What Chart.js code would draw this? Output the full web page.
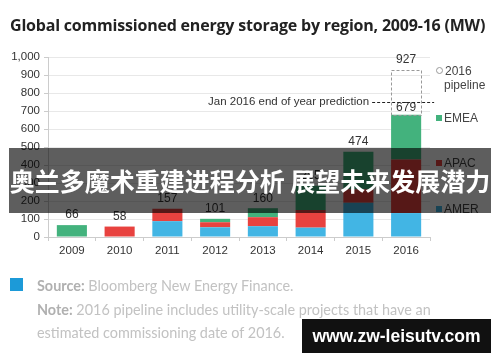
<!DOCTYPE html>
<html>
<head>
<meta charset="utf-8">
<script src="https://cdn.jsdelivr.net/npm/chart.js"></script>
<style>
  body { margin: 0; background: #fff; }
  #wrap { position: relative; width: 500px; height: 362px; overflow: hidden; font-family: "Open Sans", sans-serif; }
  #chart { position: absolute; left: 0; top: 0; }
  .title { position: absolute; left: 10px; top: 14px; font: bold 16px "Open Sans", sans-serif; color: #222; white-space: nowrap; letter-spacing: -0.2px; }
  .legend { position: absolute; left: 436px; font: 12px "Liberation Sans", sans-serif; color: #444; line-height: 14px; }
  .legend i { display: inline-block; width: 6px; height: 6px; margin-right: 2px; vertical-align: 1px; }
  .footer { position: absolute; left: 37px; font: 14.4px Lato, sans-serif; color: #c2c2c2; white-space: nowrap; }
  .footer b { color: #b0b0b0; }
  .blue { position: absolute; left: 10px; top: 278px; width: 13px; height: 13px; background: #1c9ad8; }
  .band { position: absolute; left: 9px; top: 148px; width: 482px; height: 65px; background: rgba(0,0,0,0.63);
          color: #fff; font: bold 25px "Noto Sans CJK SC", sans-serif; text-align: center; line-height: 65px; white-space: nowrap; }
  .mark { position: absolute; left: 302px; top: 319px; width: 189px; height: 34px; background: #111; overflow: hidden;
          color: #fff; font: bold 17.5px "Liberation Sans", sans-serif; text-align: center; line-height: 34px; white-space: nowrap; }
</style>
</head>
<body>
<div id="wrap">
  <canvas id="chart" width="500" height="362"></canvas>
  <div class="title">Global commissioned energy storage by region, 2009-16 (MW)</div>
  <div id="legend"></div>
  <div class="blue"></div>
  <div class="footer" style="top:277px"><b>Source:</b> Bloomberg New Energy Finance.</div>
  <div class="footer" style="top:301px"><b>Note:</b> 2016 pipeline includes utility-scale projects that have an</div>
  <div class="footer" style="top:324px">estimated commissioning date of 2016.</div>
  <div class="band">奥兰多魔术重建进程分析 展望未来发展潜力</div>
  <div class="mark">www.zw-leisutv.com</div>
</div>
<script>
var years = ['2009', '2010', '2011', '2012', '2013', '2014', '2015', '2016'];
var amer = [0, 0, 88, 54, 60, 52, 190, 133];
var apac = [0, 58, 69, 28, 50, 98, 75, 297];
var emea = [66, 0, 0, 19, 50, 135, 209, 249];
var pipeline = [0, 0, 0, 0, 0, 0, 0, 248];
var yTicks = [0, 100, 200, 300, 400, 500, 600, 700, 800, 900, 1000];
var predictionValue = 750;
var predictionText = 'Jan 2016 end of year prediction';

var colAmer = '#42b5e4', colApac = '#e8423f', colEmea = '#43b27d';

// legend, top-down as in the picture
var legendItems = [
  { text: '2016<br>pipeline', top: 64, box: 'border:1px solid #999;background:#fff;border-radius:50%;width:5px;height:5px' },
  { text: 'EMEA', top: 111, box: 'background:' + colEmea },
  { text: 'APAC', top: 156, box: 'background:' + colApac },
  { text: 'AMER', top: 202, box: 'background:' + colAmer }
];
document.getElementById('legend').innerHTML = legendItems.map(function(l) {
  return '<div class="legend" style="top:' + l.top + 'px"><i style="' + l.box + '"></i>' + l.text.replace('<br>', '<br><span style="padding-left:8px"></span>') + '</div>';
}).join('');

var labelPlugin = {
  id: 'labels',
  afterDatasetsDraw: function(chart) {
    var ctx = chart.ctx;
    var y = chart.scales.y;
    ctx.save();
    ctx.font = '12px "Liberation Sans", sans-serif';
    ctx.fillStyle = '#333';
    ctx.textAlign = 'center';
    ctx.textBaseline = 'bottom';
    // pipeline box, dashed
    var pm = chart.getDatasetMeta(3);
    pm.data.forEach(function(bar, i) {
      if (!pipeline[i]) return;
      ctx.setLineDash([3, 2]);
      ctx.strokeStyle = '#999';
      ctx.lineWidth = 1;
      ctx.strokeRect(Math.round(bar.x - bar.width / 2) + 0.5, Math.round(bar.y) + 0.5, Math.round(bar.width), Math.round(bar.base - bar.y));
      ctx.setLineDash([]);
      var full = amer[i] + apac[i] + emea[i] + pipeline[i];
      ctx.fillText(full, bar.x, bar.y - 4);
    });
    // totals
    var em = chart.getDatasetMeta(0);
    em.data.forEach(function(bar, i) {
      var t = amer[i] + apac[i] + emea[i];
      ctx.fillText(t, bar.x, y.getPixelForValue(t) - (pipeline[i] ? 1 : 4));
    });
    // prediction line
    var py = Math.round(y.getPixelForValue(predictionValue)) + 0.5;
    var last = em.data[em.data.length - 1];
    ctx.strokeStyle = '#222';
    ctx.setLineDash([3, 2]);
    ctx.beginPath();
    ctx.moveTo(last.x - 34, py);
    ctx.lineTo(last.x + 28, py);
    ctx.stroke();
    ctx.setLineDash([]);
    ctx.textAlign = 'right';
    ctx.textBaseline = 'middle';
    ctx.font = '11.5px "Liberation Sans", sans-serif';
    ctx.fillText(predictionText, last.x - 37, py - 1);
    ctx.restore();
  }
};

new Chart(document.getElementById('chart'), {
  type: 'bar',
  data: {
    labels: years,
    datasets: [
      { label: 'AMER', data: amer, backgroundColor: colAmer },
      { label: 'APAC', data: apac, backgroundColor: colApac },
      { label: 'EMEA', data: emea, backgroundColor: colEmea },
      { label: '2016 pipeline', data: pipeline, backgroundColor: 'rgba(255,255,255,0)' }
    ]
  },
  options: {
    responsive: false,
    animation: false,
    devicePixelRatio: 1,
    layout: { padding: { top: 57, right: 70, bottom: 100, left: 0 } },
    plugins: { legend: { display: false }, tooltip: { enabled: false } },
    datasets: { bar: { barPercentage: 0.63, categoryPercentage: 1 } },
    scales: {
      x: {
        stacked: true,
        grid: { drawOnChartArea: false, tickLength: 4, color: '#ccc' },
        border: { color: '#ccc' },
        ticks: { color: '#333', font: { family: 'Liberation Sans', size: 11.5 }, padding: 3 },
        afterFit: function(s) { s.height = 25; }
      },
      y: {
        stacked: true,
        min: 0, max: 1000,
        afterBuildTicks: function(s) { s.ticks = yTicks.map(function(v) { return { value: v }; }); },
        grid: { color: '#e8e8e8', tickLength: 4, tickColor: '#ccc' },
        border: { color: '#ccc' },
        ticks: {
          color: '#333', font: { family: 'Liberation Sans', size: 11.5 }, padding: 4,
          callback: function(v) { return v.toLocaleString('en-US'); }
        },
        afterFit: function(s) { s.width = 48; }
      }
    }
  },
  plugins: [labelPlugin]
});
</script>
</body>
</html>
